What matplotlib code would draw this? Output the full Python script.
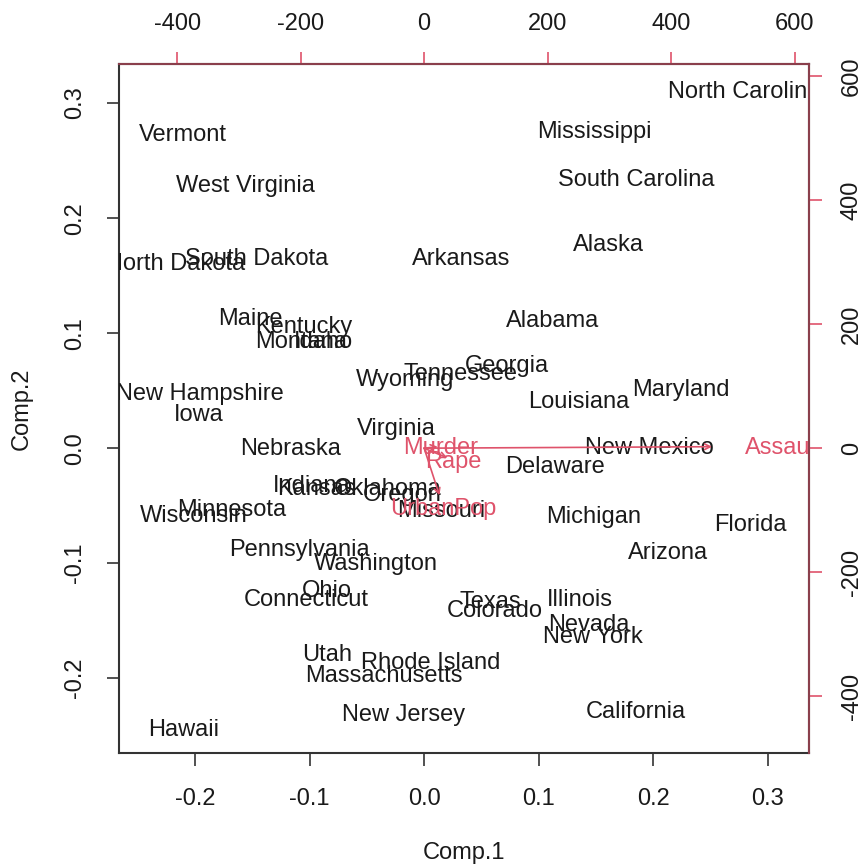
import matplotlib
matplotlib.use("Agg")
import matplotlib.pyplot as plt
import matplotlib.transforms as mtrans
import numpy as np

plt.rcParams['font.family'] = ['Liberation Sans', 'DejaVu Sans']

# PCA scores (Comp.1, Comp.2)
states = ["Alabama", "Alaska", "Arizona", "Arkansas", "California", "Colorado",
          "Connecticut", "Delaware", "Florida", "Georgia", "Hawaii", "Idaho",
          "Illinois", "Indiana", "Iowa", "Kansas", "Kentucky", "Louisiana",
          "Maine", "Maryland", "Massachusetts", "Michigan", "Minnesota",
          "Mississippi", "Missouri", "Montana", "Nebraska", "Nevada",
          "New Hampshire", "New Jersey", "New Mexico", "New York",
          "North Carolina", "North Dakota", "Ohio", "Oklahoma", "Oregon",
          "Pennsylvania", "Rhode Island", "South Carolina", "South Dakota",
          "Tennessee", "Texas", "Utah", "Vermont", "Virginia", "Washington",
          "West Virginia", "Wisconsin", "Wyoming"]
comp1 = [0.112, 0.161, 0.213, 0.032, 0.185, 0.062,
         -0.103, 0.114, 0.285, 0.072, -0.210, -0.088,
         0.136, -0.098, -0.197, -0.094, -0.105, 0.135,
         -0.152, 0.224, -0.035, 0.148, -0.168,
         0.149, 0.015, -0.107, -0.117, 0.144,
         -0.196, -0.018, 0.197, 0.147,
         0.279, -0.217, -0.085, -0.032, -0.019,
         -0.109, 0.006, 0.185, -0.146,
         0.032, 0.058, -0.085, -0.211, -0.024, -0.042,
         -0.156, -0.201, -0.017]
comp2 = [0.112, 0.178, -0.089, 0.166, -0.228, -0.140,
         -0.130, -0.015, -0.065, 0.073, -0.243, 0.094,
         -0.130, -0.031, 0.031, -0.034, 0.107, 0.042,
         0.114, 0.052, -0.196, -0.058, -0.052,
         0.277, -0.053, 0.094, 0.001, -0.152,
         0.049, -0.230, 0.002, -0.162,
         0.311, 0.162, -0.122, -0.034, -0.039,
         -0.087, -0.185, 0.235, 0.166,
         0.066, -0.132, -0.178, 0.274, 0.018, -0.099,
         0.230, -0.057, 0.061]

# variable loadings (top / right axis units)
variables = ["Murder", "Assault", "UrbanPop", "Rape"]
load1 = [27.5, 583.0, 31.0, 47.0]
load2 = [3.0, 3.0, -95.0, -19.5]

ticks_main = [-0.2, -0.1, 0.0, 0.1, 0.2, 0.3]
ticks_load = [-400, -200, 0, 200, 400, 600]

red = '#DF536B'
W, H = 863, 867
fig = plt.figure(figsize=(W/100, H/100), dpi=100)
L, R, T, B = 119, 809, 64, 753
pos = [L/W, 1 - B/H, (R-L)/W, (B-T)/H]
# labels sit a touch lower than matplotlib's bbox centre
nudge = mtrans.ScaledTranslation(0, -2/100, fig.dpi_scale_trans)

ax = fig.add_axes(pos)
xlim = (-0.2664, 0.336)
ylim = (-0.265, 0.334)
ax.set_xlim(xlim)
ax.set_ylim(ylim)
for s, x, y in zip(states, comp1, comp2):
    ax.text(x, y, s, ha='center', va='center', fontsize=17, color='#1a1a1a',
            clip_on=True, transform=ax.transData + nudge)
ax.set_xticks(ticks_main)
ax.set_xticklabels(["%.1f" % t for t in ticks_main])
ax.set_yticks(ticks_main)
ax.set_yticklabels(["%.1f" % t for t in ticks_main], rotation=90, va='center')
ax.tick_params(axis='both', labelsize=17, length=9, width=1.2, colors='#333333',
               labelcolor='#1a1a1a')
ax.tick_params(axis='x', pad=16)
ax.tick_params(axis='y', pad=15)
for sp in ax.spines.values():
    sp.set_linewidth(1.5)
    sp.set_color('#333333')

# second coordinate system for the loadings
ratio = 0.000539
ax2 = fig.add_axes(pos, facecolor='none')
ax2.set_xlim(xlim[0]/ratio, xlim[1]/ratio)
ax2.set_ylim(ylim[0]/ratio, ylim[1]/ratio)
for v, x, y in zip(variables, load1, load2):
    ax2.annotate('', xy=(0.8*x, 0.8*y), xytext=(0, 0),
                 arrowprops=dict(arrowstyle='->', color=red, lw=1.2,
                                 shrinkA=0, shrinkB=0, mutation_scale=10))
    ax2.text(x, y, v, ha='center', va='center', fontsize=17, color=red,
             clip_on=True, transform=ax2.transData + nudge)
ax2.xaxis.tick_top()
ax2.yaxis.tick_right()
ax2.set_xticks(ticks_load)
ax2.set_xticklabels([str(t) for t in ticks_load])
ax2.set_yticks(ticks_load)
ax2.set_yticklabels([str(t) for t in ticks_load], rotation=90, va='center')
ax2.tick_params(axis='both', labelsize=17, length=9, width=1.2, colors=red,
                labelcolor='#1a1a1a')
ax2.tick_params(axis='x', pad=12)
ax2.tick_params(axis='y', pad=14)
for k in ['left', 'bottom']:
    ax2.spines[k].set_visible(False)
for k in ['top', 'right']:
    ax2.spines[k].set_color('#8a3f4c')
    ax2.spines[k].set_linewidth(1.5)

fig.text((L+R)/2/W, 1 - 853/H, 'Comp.1', ha='center', va='center',
         fontsize=17, color='#1a1a1a')
fig.text(22/W, 1 - (T+B)/2/H, 'Comp.2', ha='center', va='center',
         rotation=90, fontsize=17, color='#1a1a1a')

fig.savefig('out.png', dpi=100, facecolor='white')
